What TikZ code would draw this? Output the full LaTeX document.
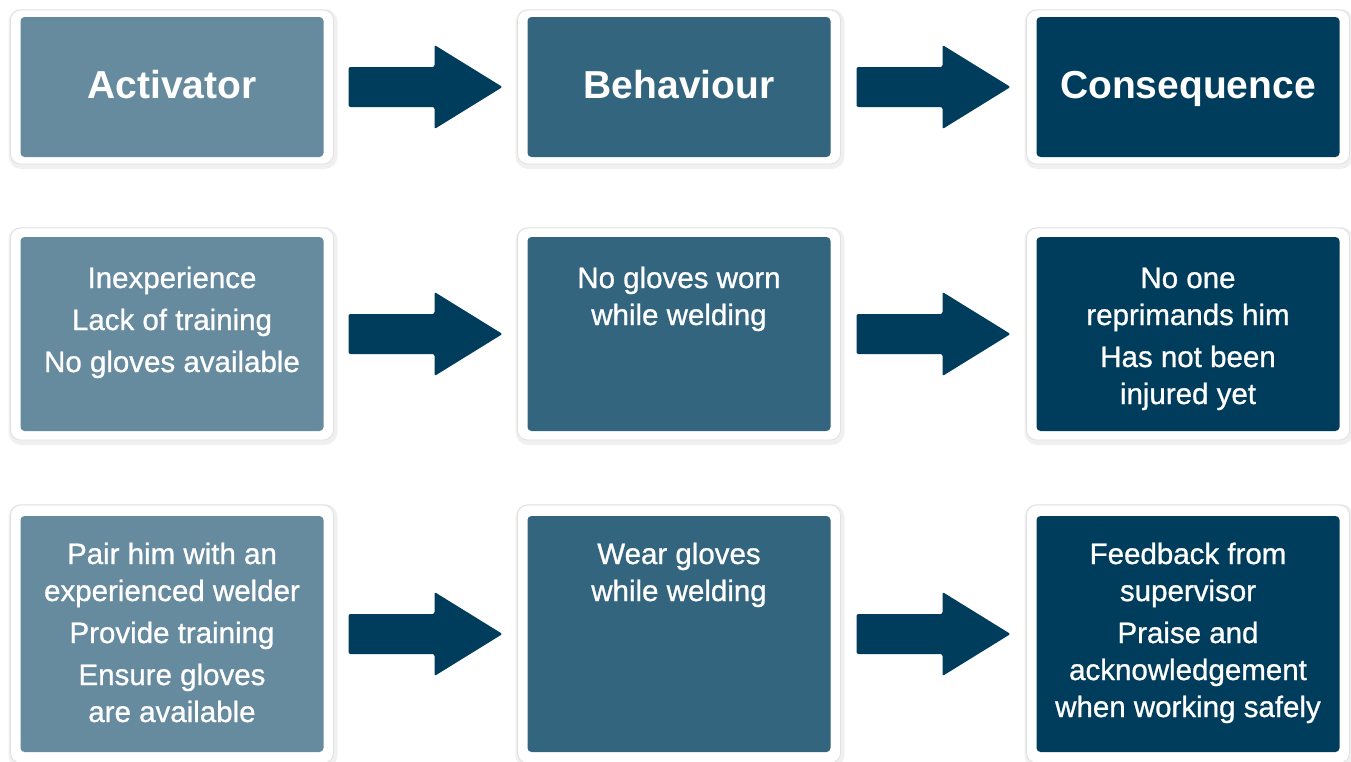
\documentclass[tikz,border=0pt]{standalone}
\usepackage{fontspec}
\setmainfont{Liberation Sans}
\newfontfamily\medfont{Liberation Sans}[FakeBold=0.9]
\usetikzlibrary{calc}
\definecolor{colA}{HTML}{668A9E}
\definecolor{colB}{HTML}{33657E}
\definecolor{colC}{HTML}{003D5C}
\begin{document}
\begin{tikzpicture}[x=1pt,y=-1pt,
  shadowbox/.style={fill=black!6, rounded corners=13pt, inner sep=0pt, outer sep=0pt},
  framebox/.style={fill=white, draw=black!12, line width=0.8pt, rounded corners=10pt, inner sep=0pt, outer sep=0pt, minimum width=323pt},
  inbox/.style={rounded corners=4pt, inner sep=0pt, outer sep=0pt, minimum width=303pt},
  blockarrow/.style={fill=colC, rounded corners=2pt},
  title/.style={text=white, font=\bfseries\fontsize{39}{39}\selectfont, anchor=base, inner sep=0pt},
  body/.style={text=white, font=\medfont\fontsize{29.5}{37}\selectfont, anchor=base, inner sep=0pt}]
\useasboundingbox[fill=white] (0,0) rectangle (1351,761);
\newcommand\panel[6]{%
  \node[shadowbox, minimum width=329pt, minimum height=#4+2*#6+6] at (#2+1,#3+2) {};
  \node[framebox, minimum height=#4+2*#6] (#1f) at (#2,#3) {};
  \node[inbox, fill=#5, minimum height=#4] (#1) at (#2,#3) {};}
\newcommand\blockarr[3]{%
  \coordinate (#3) at ($(#1.east)!0.5!(#2.west)$);
  \path[blockarrow, shift={(#3)}] (-77,-20) -- (9,-20) -- (9,-42) -- (77,0) -- (9,42) -- (9,20) -- (-77,20) -- cycle;}
% row 1
\panel{a1}{172}{87}{140}{colA}{7}
\panel{b1}{679}{87}{140}{colB}{7}
\panel{c1}{1188}{87}{140}{colC}{7}
% row 2
\panel{a2}{172}{334}{194}{colA}{9}
\panel{b2}{679}{334}{194}{colB}{9}
\panel{c2}{1188}{334}{194}{colC}{9}
% row 3
\panel{a3}{172}{634}{236}{colA}{11}
\panel{b3}{679}{634}{236}{colB}{11}
\panel{c3}{1188}{634}{236}{colC}{11}
% arrows
\blockarr{a1}{b1}{m11}
\blockarr{b1}{c1}{m12}
\blockarr{a2}{b2}{m21}
\blockarr{b2}{c2}{m22}
\blockarr{a3}{b3}{m31}
\blockarr{b3}{c3}{m32}
% titles
\node[title] (ta1) at (172,98) {Activator};
\node[title] (tb1) at (679,98) {Behaviour};
\node[title] (tc1) at (1188,98) {Consequence};
% row 2 texts
\node[body] (ta2) at (172,288) {\begin{tabular}[t]{@{}c@{}}Inexperience\\[5pt]Lack of training\\[5pt]No gloves available\end{tabular}};
\node[body] (tb2) at (679,288) {\begin{tabular}[t]{@{}c@{}}No gloves worn\\while welding\end{tabular}};
\node[body] (tc2) at (1188,288) {\begin{tabular}[t]{@{}c@{}}No one\\reprimands him\\[5pt]Has not been\\injured yet\end{tabular}};
% row 3 texts
\node[body] (ta3) at (172,564) {\begin{tabular}[t]{@{}c@{}}Pair him with an\\experienced welder\\[5pt]Provide training\\[5pt]Ensure gloves\\are available\end{tabular}};
\node[body] (tb3) at (679,564) {\begin{tabular}[t]{@{}c@{}}Wear gloves\\while welding\end{tabular}};
\node[body] (tc3) at (1188,564) {\begin{tabular}[t]{@{}c@{}}Feedback from\\supervisor\\[5pt]Praise and\\acknowledgement\\when working safely\end{tabular}};
\end{tikzpicture}
\end{document}
